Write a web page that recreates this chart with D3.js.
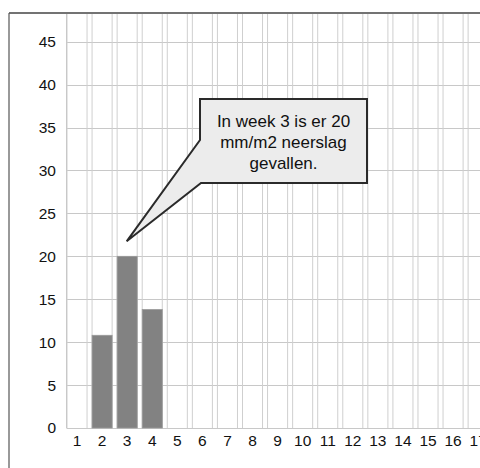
<!DOCTYPE html>
<html>
<head>
<meta charset="utf-8">
<script src="https://cdn.jsdelivr.net/npm/d3@7"></script>
<style>
  html, body { margin: 0; padding: 0; background: #fff; }
  svg { display: block; }
  text { font-family: "Liberation Sans", Arial, sans-serif; fill: #111; }
</style>
</head>
<body>
<svg id="chart" width="480" height="468"></svg>
<script>
// Data
const weeks = [1,2,3,4,5,6,7,8,9,10,11,12,13,14,15,16,17];
const rainfall = [null, 10.8, 20, 13.8, null, null, null, null, null, null, null, null, null, null, null, null, null];
const yTicks = [0,5,10,15,20,25,30,35,40,45];
const calloutLines = ["In week 3 is er 20", "mm/m2 neerslag", "gevallen."];
const calloutWeek = 3;

const svg = d3.select("#chart");

const frame = { left: 9, top: 13 };
const plotLeft = 66.5, plotTop = 13;
const step = 25.07, pInner = 0.2;
const x0 = 67;
const x = d3.scaleBand()
  .domain(weeks)
  .range([x0, x0 + step * (weeks.length - pInner)])
  .paddingInner(pInner)
  .paddingOuter(0);

const y = d3.scaleLinear().domain([0, 45]).range([428, 41.7]);

const plotRight = 600;

// Frame
svg.append("line").attr("x1", frame.left).attr("x2", 480).attr("y1", frame.top).attr("y2", frame.top)
  .attr("stroke", "#444").attr("stroke-width", 1.5);
svg.append("line").attr("x1", frame.left).attr("x2", frame.left).attr("y1", frame.top).attr("y2", 468)
  .attr("stroke", "#555").attr("stroke-width", 1.2);

// Horizontal gridlines
svg.append("g").selectAll("line").data(yTicks).join("line")
  .attr("x1", plotLeft).attr("x2", plotRight)
  .attr("y1", d => Math.round(y(d)) + 0.5).attr("y2", d => Math.round(y(d)) + 0.5)
  .attr("stroke", "#c8c8c8").attr("stroke-width", 1);

// Vertical gridlines at each band edge
const edges = [];
weeks.forEach(w => { edges.push(x(w)); edges.push(x(w) + x.bandwidth()); });
svg.append("g").selectAll("line").data(edges).join("line")
  .attr("x1", d => d).attr("x2", d => d)
  .attr("y1", plotTop + 1).attr("y2", y(0))
  .attr("stroke", "#cfcfcf").attr("stroke-width", 1);
svg.append("line").attr("x1", plotLeft).attr("x2", plotLeft).attr("y1", plotTop + 1).attr("y2", y(0))
  .attr("stroke", "#c8c8c8");

// Bars
svg.append("g").selectAll("rect").data(weeks.map((w, i) => ({ w, v: rainfall[i] })).filter(d => d.v != null))
  .join("rect")
  .attr("x", d => x(d.w))
  .attr("y", d => y(d.v))
  .attr("width", x.bandwidth())
  .attr("height", d => y(0) - y(d.v))
  .attr("fill", "#828282")
  .attr("stroke", "#9a9a9a").attr("stroke-width", 0.8);

// Y axis labels
const yAxis = d3.axisLeft(y).tickValues(yTicks).tickSize(0).tickPadding(0);
const yg = svg.append("g").attr("transform", "translate(56,0)").call(yAxis);
yg.select(".domain").remove();
yg.selectAll("text").attr("font-size", 15.5).attr("fill", "#111")
  .style("font-family", "'Liberation Sans', Arial, sans-serif");

// X axis labels
const xAxis = d3.axisBottom(x).tickSize(0).tickPadding(0);
const xg = svg.append("g").attr("transform", `translate(0,${y(0)})`).call(xAxis);
xg.select(".domain").remove();
xg.selectAll("text").attr("font-size", 15.5).attr("fill", "#111").attr("dy", "0.71em").attr("y", 7)
  .style("font-family", "'Liberation Sans', Arial, sans-serif");

// Callout
const box = { x: 200, y: 99, w: 167, h: 84 };
const tip = [x(calloutWeek) + x.bandwidth() / 2 - 0.5, y(20) - 15];
const pts = [
  [box.x, box.y], [box.x + box.w, box.y], [box.x + box.w, box.y + box.h],
  [box.x + 1, box.y + box.h], tip, [box.x, box.y + 41]
];
svg.append("path")
  .attr("d", d3.line()(pts) + "Z")
  .attr("fill", "#ececec")
  .attr("stroke", "#2a2a2a").attr("stroke-width", 2).attr("stroke-linejoin", "miter");

const cx = box.x + box.w / 2;
svg.append("g").selectAll("text").data(calloutLines).join("text")
  .attr("x", cx)
  .attr("y", (d, i) => 127 + i * 21)
  .attr("text-anchor", "middle")
  .attr("font-size", 17)
  .text(d => d);
</script>
</body>
</html>
